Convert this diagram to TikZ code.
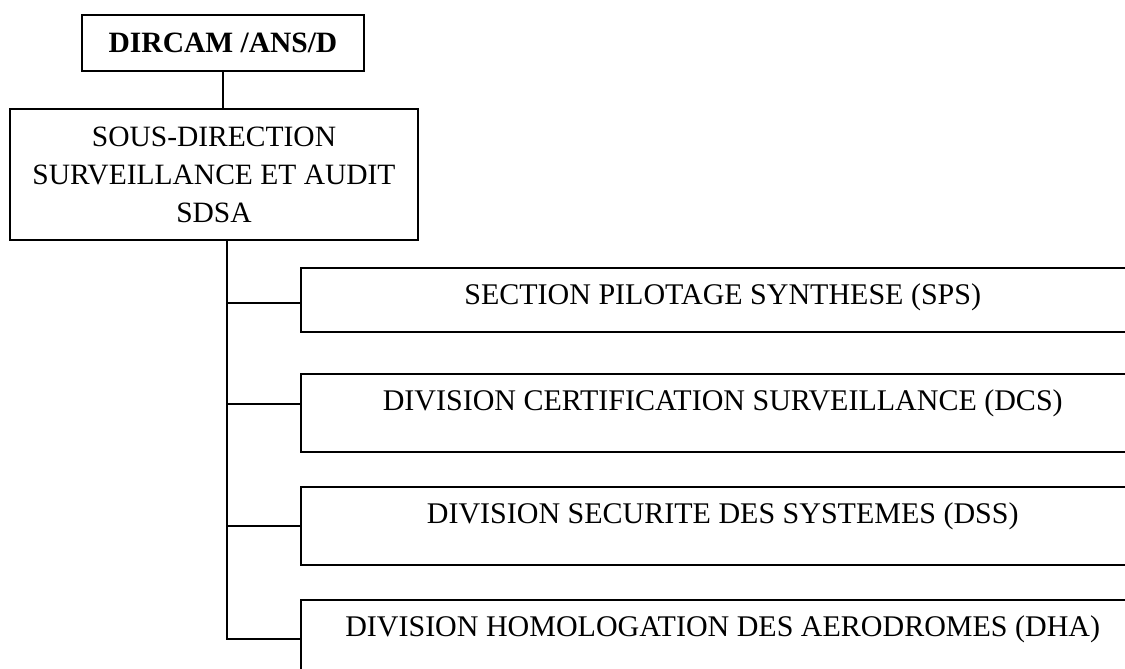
\documentclass[tikz,border=0pt]{standalone}
\usepackage{fontspec}
\setmainfont{Liberation Serif}
\tikzset{
  box/.style={draw, line width=1.5pt, inner sep=0pt, font=\fontsize{29.5}{38}\selectfont},
  unit/.style={box, font=\fontsize{30}{36}\selectfont, minimum width=844pt, anchor=north west, text height=37pt},
  link/.style={line width=1.6pt},
}
\begin{document}
\begin{tikzpicture}[x=1pt,y=-1pt]
\useasboundingbox (0,0) rectangle (1125,669);
\clip (0,0) rectangle (1125,669);
\node[box, font=\fontsize{29.5}{38}\selectfont\bfseries, minimum width=282pt, minimum height=56pt] (dircam) at (223,43) {DIRCAM /ANS/D};
\node[box, align=center, minimum width=408pt, minimum height=131pt] (sdsa) at (214,174.5) {SOUS-DIRECTION\\SURVEILLANCE ET AUDIT\\SDSA};
\foreach \n/\y/\d/\t in {sps/267/27/SECTION PILOTAGE SYNTHESE (SPS),
  dcs/373/41/DIVISION CERTIFICATION SURVEILLANCE (DCS),
  dss/486/41/DIVISION SECURITE DES SYSTEMES (DSS),
  dha/599/41/DIVISION HOMOLOGATION DES AERODROMES (DHA)} {
  \node[unit, text depth=\d pt] (\n) at (300,\y) {\t};
}
\coordinate (trunk) at (227,637);
\draw[link] (dircam.south) -- (dircam.south |- sdsa.north);
\draw[link] (sdsa.south -| trunk) -- (trunk |- dha.west) -- (dha.west);
\foreach \n/\s in {sps/-3, dcs/9, dss/0} {
  \draw[link] ([yshift=\s pt]\n.west -| trunk) -- ([yshift=\s pt]\n.west);
}
\end{tikzpicture}
\end{document}
